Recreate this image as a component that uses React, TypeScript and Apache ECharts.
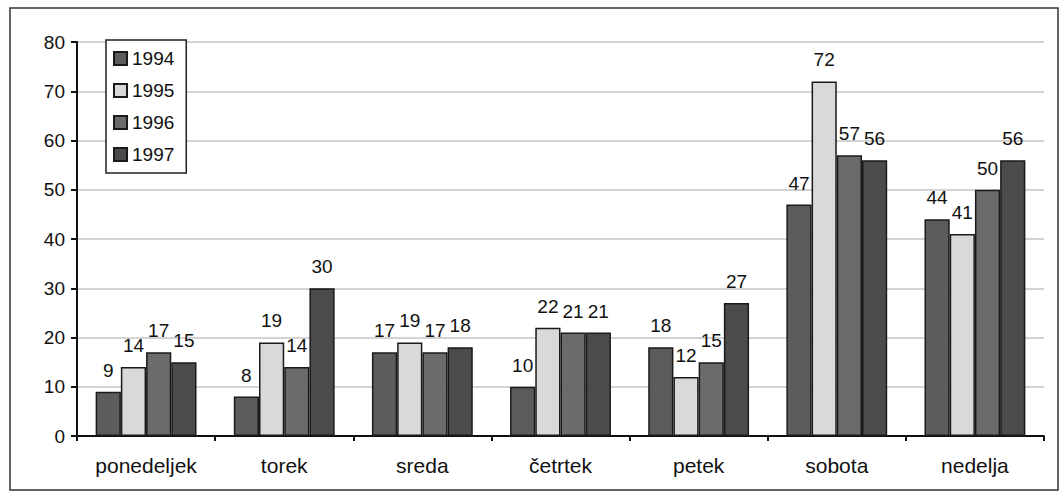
import React, { useEffect, useRef } from "react";
import * as echarts from "echarts";

const categories = ["ponedeljek", "torek", "sreda", "četrtek", "petek", "sobota", "nedelja"];
const seriesNames = ["1994", "1995", "1996", "1997"];
const values1994 = [9, 8, 17, 10, 18, 47, 44];
const values1995 = [14, 19, 19, 22, 12, 72, 41];
const values1996 = [17, 14, 17, 21, 15, 57, 50];
const values1997 = [15, 30, 18, 21, 27, 56, 56];
const seriesColors = ["#5c5c5c", "#d9d9d9", "#6b6b6b", "#4b4b4b"];

const FONT = "'Liberation Sans', Arial, sans-serif";

export default function App() {
  const ref = useRef<HTMLDivElement>(null);
  useEffect(() => {
    document.body.style.margin = "0";
    const chart = echarts.init(ref.current!, null, { renderer: "svg" });
    const data = [values1994, values1995, values1996, values1997];
    chart.setOption({
      animation: false,
      backgroundColor: "#ffffff",
      textStyle: { fontFamily: FONT },
      graphic: [
        {
          type: "rect",
          shape: { x: 10, y: 8, width: 1048, height: 482 },
          style: { fill: "none", stroke: "#333", lineWidth: 1.5 },
          z: -1,
        },
      ],
      grid: { left: 77, right: 20, top: 42, bottom: 58 },
      legend: {
        orient: "vertical",
        left: 106,
        top: 40,
        data: seriesNames,
        itemWidth: 13,
        itemHeight: 13,
        itemGap: 13,
        padding: [9, 12, 9, 7],
        borderColor: "#222",
        borderWidth: 1.5,
        backgroundColor: "#fff",
        icon: "rect",
        textStyle: { fontFamily: FONT, fontSize: 19, color: "#111" },
        z: 10,
      },
      xAxis: {
        type: "category",
        data: categories,
        axisLine: { lineStyle: { color: "#111", width: 2 } },
        axisTick: { show: true, length: 5, lineStyle: { color: "#111", width: 2 } },
        axisLabel: { fontFamily: FONT, fontSize: 21, color: "#111", margin: 19 },
      },
      yAxis: {
        type: "value",
        min: 0,
        max: 80,
        interval: 10,
        axisLine: { show: true, lineStyle: { color: "#111", width: 2 } },
        axisTick: { show: true, length: 6, lineStyle: { color: "#111", width: 2 } },
        axisLabel: { fontFamily: FONT, fontSize: 19, color: "#111", margin: 12 },
        splitLine: { lineStyle: { color: "#c4c4c4", width: 1.5 } },
      },
      series: seriesNames.map((name, i) => ({
        name,
        type: "bar",
        data: data[i],
        barGap: "0%",
        barCategoryGap: "27%",
        itemStyle: { color: seriesColors[i], borderColor: "#1a1a1a", borderWidth: 1.5 },
        label: {
          show: true,
          position: "top",
          distance: 12,
          fontFamily: FONT,
          fontSize: 19,
          color: "#111",
        },
      })),
    });
    return () => chart.dispose();
  }, []);
  return <div ref={ref} style={{ width: 1064, height: 494 }} />;
}
